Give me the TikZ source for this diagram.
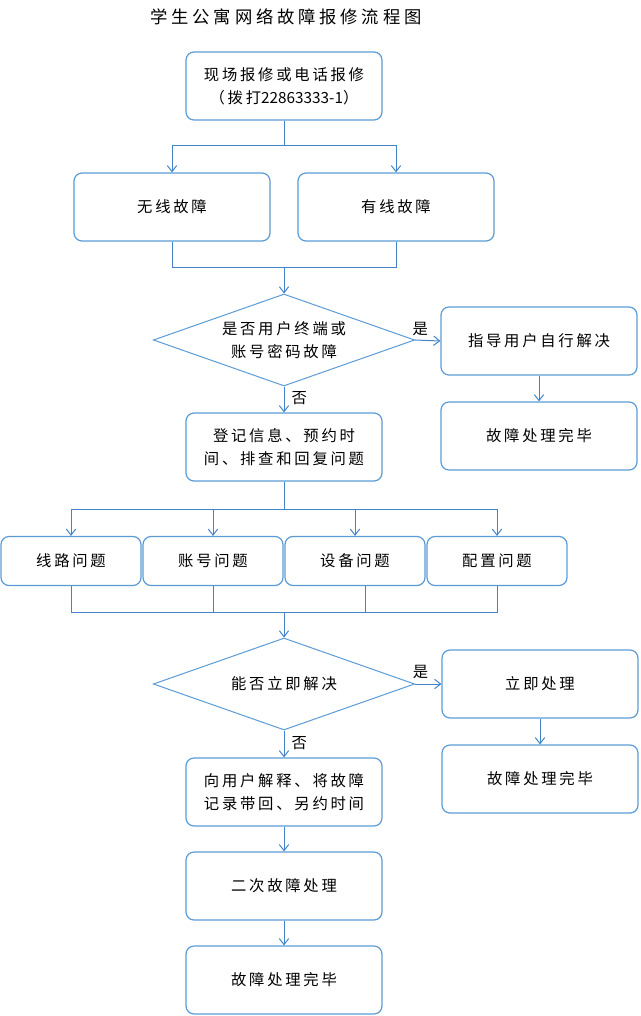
\documentclass[tikz,border=0pt]{standalone}
\usepackage{fontspec}
\setmainfont{Noto Sans CJK SC}
\newfontfamily\boxfont[LetterSpace=18]{Noto Sans CJK SC}
\newfontfamily\titlefont[LetterSpace=22]{Noto Sans CJK SC}
\usepackage{tikz}
\usetikzlibrary{shapes.geometric,arrows.meta,calc}

\definecolor{boxblue}{RGB}{91,155,213}
\definecolor{lineblue}{RGB}{66,132,202}

\tikzset{
    >={Straight Barb[length=4.5pt,width=7pt]},
    procbox/.style={draw=boxblue, line width=0.9pt, rounded corners=6pt,
        minimum width=147pt, minimum height=51pt, inner sep=0pt, align=center,
        font=\boxfont\fontsize{11.5pt}{17pt}\selectfont},
    smallbox/.style={procbox, minimum width=105pt, minimum height=36.75pt},
    decide/.style={draw=boxblue, line width=0.75pt, diamond, aspect=2.85, inner sep=0pt,
        minimum width=196pt, minimum height=69pt, align=center,
        font=\boxfont\fontsize{11.5pt}{17pt}\selectfont},
    conn/.style={draw=lineblue, line width=0.75pt},
    yesno/.style={font=\fontsize{11.5pt}{13pt}\selectfont}
}

\begin{document}
\begin{tikzpicture}[x=0.75pt, y=-0.75pt]
    \useasboundingbox (0,0) rectangle (640,1016);

    % Title
    \node[font=\titlefont\fontsize{13pt}{15pt}\selectfont] (title) at (286,17) {学生公寓网络故障报修流程图};

    % Report
    \node[procbox] (report) at (284,86) {现场报修或电话报修\\（拨打{\normalfont 22863333-1}）};
    \node[procbox] (wifi) at (172,207) {无线故障};
    \node[procbox] (wired) at (396,207) {有线故障};

    % First decision
    \node[decide] (ask1) at (284,340) {是否用户终端或\\账号密码故障};
    \node[procbox] (guide) at (539,341) {指导用户自行解决};
    \node[procbox] (done1) at (539,436) {故障处理完毕};
    \node[procbox] (record) at (284,447) {登记信息、预约时\\间、排查和回复问题};

    % Problem kinds
    \node[smallbox] (line) at (71,561) {线路问题};
    \node[smallbox] (acct) at (213,561) {账号问题};
    \node[smallbox] (dev) at (355,561) {设备问题};
    \node[smallbox] (conf) at (497,561) {配置问题};

    % Second decision
    \node[decide] (ask2) at (284,684) {能否立即解决};
    \node[procbox] (now) at (540,684) {立即处理};
    \node[procbox] (done2) at (540,779) {故障处理完毕};
    \node[procbox] (explain) at (284,792) {向用户解释、将故障\\记录带回、另约时间};
    \node[procbox] (again) at (284,886) {二次故障处理};
    \node[procbox] (done3) at (284,980) {故障处理完毕};

    % Split / merge points
    \coordinate (s1) at (284,146);
    \coordinate (m1) at (284,267);
    \coordinate (s2) at (284,509);
    \coordinate (m2) at (284,612);

    % Connectors
    \draw[conn] (report.south) -- (s1);
    \foreach \n in {wifi,wired} \draw[conn,->] (s1) -| (\n.north);
    \foreach \n in {wifi,wired} \draw[conn] (\n.south) |- (m1);
    \draw[conn,->] (m1) -- (ask1.north);

    \draw[conn,->] (ask1.east) -- (guide.west) node[yesno, pos=0.2, above] {是};
    \draw[conn,->] (guide.south) -- (done1.north);
    \draw[conn,->] (ask1.south) -- (record.north) node[yesno, pos=0.45, right=2pt] {否};

    \draw[conn] (record.south) -- (s2);
    \foreach \n in {line,acct,dev,conf} \draw[conn,->] (s2) -| (\n.north);
    \foreach \n in {line,acct,conf} \draw[conn] (\n.south) |- (m2);
    \draw[conn] ([xshift=8pt]dev.south) |- (m2);
    \draw[conn,->] (m2) -- (ask2.north);

    \draw[conn,->] (ask2.east) -- (now.west) node[yesno, pos=0.2, above] {是};
    \draw[conn,->] (now.south) -- (done2.north);
    \draw[conn,->] (ask2.south) -- (explain.north) node[yesno, pos=0.45, right=2pt] {否};
    \draw[conn,->] (explain.south) -- (again.north);
    \draw[conn,->] (again.south) -- (done3.north);
\end{tikzpicture}
\end{document}
